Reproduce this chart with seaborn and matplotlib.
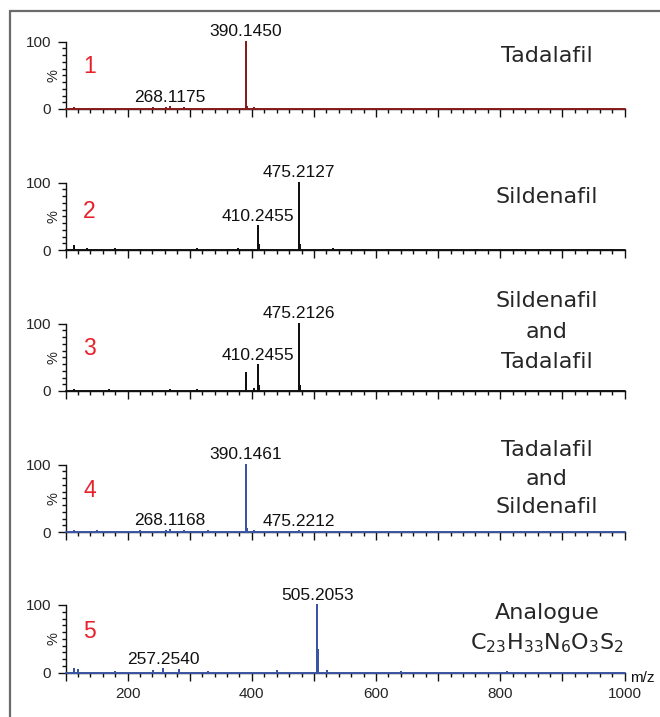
import matplotlib
matplotlib.use("Agg")
import numpy as np
import pandas as pd
import matplotlib.pyplot as plt
import seaborn as sns
from matplotlib.lines import Line2D
from matplotlib.ticker import MultipleLocator, FixedLocator

sns.set_style("ticks")
plt.rcParams['font.family'] = ['Liberation Sans', 'DejaVu Sans']
plt.rcParams['mathtext.default'] = 'regular'

# ---- spectra: centroid peaks (m/z, relative intensity %) ----
mz_1 = [113.1, 150.2, 201.3, 241.1, 262.1, 268.1175, 290.1, 330.2, 391.1, 390.1450, 392.1, 404.2, 520.3, 610.4, 780.5]
int_1 = [0.8, 0.6, 0.7, 0.8, 1.0, 2.5, 1.2, 0.7, 12.0, 100.0, 3.0, 2.0, 0.6, 0.5, 0.4]

mz_2 = [113.1, 135.1, 180.2, 260.2, 311.1, 377.2, 410.2455, 411.2, 475.2127, 476.2, 477.2, 530.3, 650.4, 820.5]
int_2 = [6.5, 1.0, 0.8, 0.7, 0.8, 1.2, 36.0, 8.0, 100.0, 31.0, 8.0, 0.8, 0.6, 0.5]

mz_3 = [113.1, 170.2, 268.1, 311.1, 390.1450, 391.1, 404.2, 410.2455, 411.2, 475.2126, 476.2, 477.2, 560.3, 700.4]
int_3 = [1.5, 0.8, 1.2, 1.0, 27.0, 6.0, 3.0, 38.0, 8.0, 100.0, 30.0, 8.0, 0.6, 0.5]

mz_4 = [113.1, 150.2, 220.1, 262.1, 268.1168, 290.1, 330.2, 390.1461, 391.1, 392.1, 404.2, 475.2212, 560.3, 720.4]
int_4 = [1.0, 0.8, 0.9, 1.5, 3.0, 2.0, 0.8, 100.0, 29.0, 5.0, 1.5, 1.8, 0.6, 0.5]

mz_5 = [113.1, 120.1, 180.2, 240.2, 257.2540, 283.2, 330.2, 441.2, 505.2053, 506.2, 507.2, 520.3, 640.4, 810.5]
int_5 = [5.0, 3.0, 1.0, 1.5, 5.0, 3.5, 1.2, 2.0, 100.0, 34.0, 16.0, 1.5, 0.8, 0.5]

spectra_mz = [mz_1, mz_2, mz_3, mz_4, mz_5]
spectra_int = [int_1, int_2, int_3, int_4, int_5]

# labelled peaks per spectrum
labels_mz = [
    [390.1450, 268.1175],
    [475.2127, 410.2455],
    [475.2126, 410.2455],
    [390.1461, 268.1168, 475.2212],
    [505.2053, 257.2540],
]
label_texts = [
    ["390.1450", "268.1175"],
    ["475.2127", "410.2455"],
    ["475.2126", "410.2455"],
    ["390.1461", "268.1168", "475.2212"],
    ["505.2053", "257.2540"],
]

compound_names = [
    "Tadalafil",
    "Sildenafil",
    "Sildenafil\nand\nTadalafil",
    "Tadalafil\nand\nSildenafil",
    "Analogue\nC$_{23}$H$_{33}$N$_{6}$O$_{3}$S$_{2}$",
]
panel_numbers = ["1", "2", "3", "4", "5"]

x_ticks_major = [100, 200, 300, 400, 500, 600, 700, 800, 900, 1000]
x_tick_labels = ["", "200", "", "400", "", "600", "", "800", "", "1000"]
MZ_MIN, MZ_MAX = 100, 1000

colors = ["#861c1c", "#111111", "#111111", "#3b55a5", "#3b55a5"]

# ---- layout ----
W, H = 660, 717
fig = plt.figure(figsize=(W / 100, H / 100), dpi=100)
ax_left_px, ax_right_px = 65.5, 624.5
zero_px = [109, 250, 391, 532, 672.5]
ax_h_px = 67.5
name_y = [0.79, 0.79, 0.88, 0.79, 0.645]
name_spacing = [1.2, 1.2, 1.66, 1.55, 1.5]
num_y = [0.63, 0.57, 0.63, 0.62, 0.60]


def stick_frame(mz, inten):
    order = np.argsort(mz)
    xs, ys = [MZ_MIN], [0.0]
    for i in order:
        xs += [mz[i], mz[i], mz[i]]
        ys += [0.0, inten[i], 0.0]
    xs.append(MZ_MAX)
    ys.append(0.0)
    return pd.DataFrame({"mz": xs, "intensity": ys})


for k in range(5):
    bottom = 1 - zero_px[k] / H
    ax = fig.add_axes([ax_left_px / W, bottom,
                       (ax_right_px - ax_left_px) / W, ax_h_px / H])
    df = stick_frame(spectra_mz[k], spectra_int[k])
    sns.lineplot(data=df, x="mz", y="intensity", ax=ax, sort=False,
                 estimator=None, color=colors[k], linewidth=1.4,
                 clip_on=False, zorder=5)
    ax.set_xlim(MZ_MIN, MZ_MAX)
    ax.set_ylim(0, 100)
    sns.despine(ax=ax, top=True, right=True)
    for side in ('left', 'bottom'):
        ax.spines[side].set_linewidth(1.0)
        ax.spines[side].set_color('#111111')

    ax.xaxis.set_major_locator(FixedLocator(x_ticks_major))
    ax.xaxis.set_minor_locator(MultipleLocator(20))
    ax.yaxis.set_major_locator(FixedLocator([0, 100]))
    ax.yaxis.set_minor_locator(MultipleLocator(10))
    ax.set_yticklabels(["0", "100"])
    if k == 4:
        ax.set_xticklabels(x_tick_labels)
    else:
        ax.set_xticklabels([])
    ax.tick_params(axis='both', which='major', length=5.8, width=1.0,
                   color='#111111', labelsize=11, pad=4.5)
    ax.tick_params(axis='both', which='minor', length=3.0, width=1.0,
                   color='#111111')
    ax.set_xlabel("")
    ax.set_ylabel("")
    ax.patch.set_alpha(0)

    ax.text(-0.021, 0.5, "%", transform=ax.transAxes, rotation=90,
            ha='center', va='center', fontsize=10.5)

    # peak annotations
    for m, t in zip(labels_mz[k], label_texts[k]):
        idx = int(np.argmin(np.abs(np.array(spectra_mz[k]) - m)))
        h = spectra_int[k][idx]
        ax.annotate(t, (m, h), xytext=(0, 1.5), textcoords='offset points',
                    ha='center', va='bottom', fontsize=12.5, color='#111111',
                    annotation_clip=False)

    ax.text(0.043, num_y[k], panel_numbers[k], transform=ax.transAxes,
            ha='center', va='center', fontsize=16.5, color='#e8202a')
    ax.text(0.861, name_y[k], compound_names[k], transform=ax.transAxes,
            ha='center', va='center', fontsize=16, color='#262626',
            family=['DejaVu Sans'], linespacing=name_spacing[k])

    if k == 4:
        ax.text(1.01, -0.08, "m/z", transform=ax.transAxes,
                ha='left', va='center', fontsize=11, color='#111111')

# outer frame lines (top and left)
fig.add_artist(Line2D([10 / W, 10 / W], [0, 1 - 11 / H], transform=fig.transFigure,
                      color='#6b6b6b', linewidth=1.6))
fig.add_artist(Line2D([10 / W, 1], [1 - 11 / H, 1 - 11 / H], transform=fig.transFigure,
                      color='#6b6b6b', linewidth=1.6))

fig.savefig("out.png", dpi=100)
